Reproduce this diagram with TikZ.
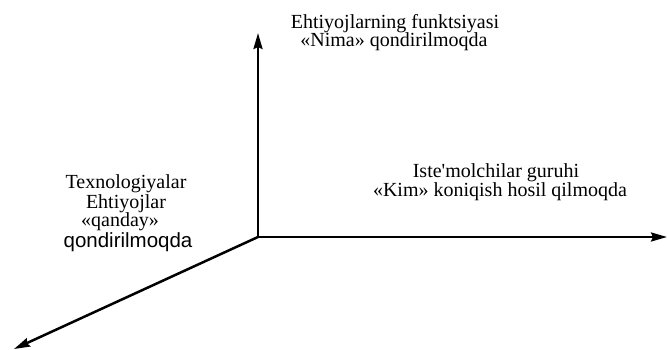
\documentclass[tikz,border=0pt]{standalone}
\usepackage{fontspec}
\setmainfont{Liberation Serif}
\newfontfamily\rawserif[Ligatures=TeXOff]{Liberation Serif}
\newfontfamily\arialfont{Liberation Sans}
\usetikzlibrary{arrows.meta}
\begin{document}
\begin{tikzpicture}[x=1pt,y=-1pt,
  axis/.style={line width=2.5pt,-{Stealth[length=16pt,width=9pt,inset=2pt]}},
  lbl/.style={anchor=base,inner sep=0pt,font=\fontsize{20}{20}\selectfont},
  sanslbl/.style={anchor=base,inner sep=0pt,font=\arialfont\fontsize{20.5}{20.5}\selectfont}]
\useasboundingbox (0,0) rectangle (668,350);
\coordinate (O) at (258,237);
\coordinate (U) at (258,33);
\coordinate (R) at (667,237);
\coordinate (D) at (14,349);
\draw[axis] (O) -- (U);
\draw[axis] (O) -- (R);
\draw[axis] (O) -- (D);
\node[lbl] (t1) at (395,28.3) {Ehtiyojlarning funktsiyasi};
\node[lbl] (t2) at (394,46.7) {«Nima» qondirilmoqda};
\node[lbl] (r1) at (496,177.3) {{\rawserif Iste'molchilar} guruhi};
\node[lbl] (r2) at (500,196.5) {«Kim» koniqish hosil qilmoqda};
\node[lbl] (l1) at (126,188.3) {Texnologiyalar};
\node[lbl] (l2) at (126,208.3) {Ehtiyojlar};
\node[lbl] (l3) at (120,226.7) {«qanday»};
\node[sanslbl] (l4) at (128,247.7) {qondirilmoqda};
\end{tikzpicture}
\end{document}
